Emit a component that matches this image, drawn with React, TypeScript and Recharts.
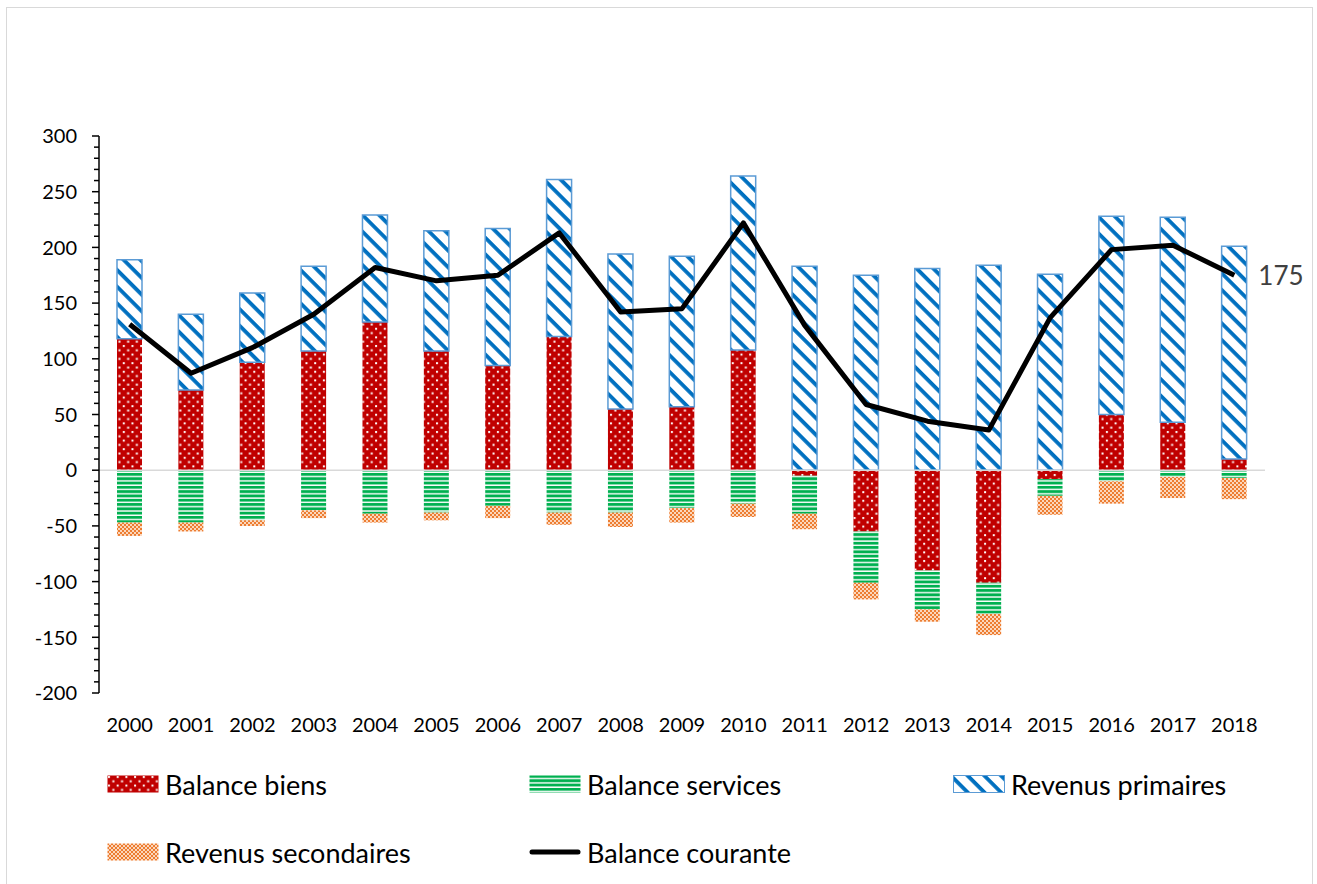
import React from "react";
import {
  Bar,
  ComposedChart,
  LabelList,
  Line,
  ReferenceLine,
  XAxis,
  YAxis,
} from "recharts";

const years = [
  "2000", "2001", "2002", "2003", "2004", "2005", "2006", "2007", "2008", "2009",
  "2010", "2011", "2012", "2013", "2014", "2015", "2016", "2017", "2018",
];
const balanceBiens = [118, 72, 97, 107, 133, 107, 94, 120, 55, 57, 108, -5, -55, -90, -101, -8, 50, 43, 10];
const balanceServices = [-47, -47, -45, -36, -39, -38, -32, -38, -38, -34, -30, -34, -46, -35, -28, -15, -10, -6, -7];
const revenusPrimaires = [71, 68, 62, 76, 96, 108, 123, 141, 139, 135, 156, 183, 175, 181, 184, 176, 178, 184, 191];
const revenusSecondaires = [-12, -8, -5, -7, -8, -7, -11, -11, -13, -13, -12, -14, -15, -11, -19, -17, -20, -19, -19];
const balanceCourante = [131, 87, 110, 140, 182, 170, 175, 213, 142, 145, 222, 130, 59, 44, 36, 137, 198, 202, 175];

const yTicks = [
  -200, -190, -180, -170, -160, -150, -140, -130, -120, -110,
  -100, -90, -80, -70, -60, -50, -40, -30, -20, -10,
  0, 10, 20, 30, 40, 50, 60, 70, 80, 90,
  100, 110, 120, 130, 140, 150, 160, 170, 180, 190,
  200, 210, 220, 230, 240, 250, 260, 270, 280, 290, 300,
];

const data = years.map((year, i) => ({
  year,
  biens: balanceBiens[i],
  services: balanceServices[i],
  primaires: revenusPrimaires[i],
  secondaires: revenusSecondaires[i],
  courante: balanceCourante[i],
}));

const FONT = "Lato, 'Open Sans', sans-serif";

// tick label sits tickSize + tickMargin left of the axis line
const Y_TICK_OFFSET = 22;

const YTick = (props: any) => {
  const { x, y, payload } = props;
  const axisX = x + Y_TICK_OFFSET;
  const major = payload.value % 50 === 0;
  return (
    <g>
      <line x1={axisX - (major ? 7 : 5)} x2={axisX} y1={y} y2={y} stroke="#000" strokeWidth={1.5} />
      {major && (
        <text x={x} y={y} dy="0.36em" textAnchor="end" fontSize={20} fontFamily={FONT} fill="#000">
          {payload.value}
        </text>
      )}
    </g>
  );
};

const LastLabel = (props: any) => {
  const { x, y, value, index } = props;
  if (index !== years.length - 1) return null;
  return (
    <text x={x + 24} y={y} dy="0.36em" fontSize={26} fontFamily={FONT} fill="#404040">
      {value}
    </text>
  );
};

const Patterns = () => (
  <svg width={0} height={0} style={{ position: "absolute" }}>
    <defs>
      <pattern id="pBiens" width={8.7} height={8.6} patternUnits="userSpaceOnUse">
        <rect width={8.7} height={8.6} fill="#c00000" />
        <rect x={1} y={1} width={2} height={2} fill="#fff" />
        <rect x={5.35} y={5.3} width={2} height={2} fill="#fff" />
      </pattern>
      <pattern id="pServices" width={10} height={4.3} patternUnits="userSpaceOnUse">
        <rect width={10} height={4.3} fill="#fff" />
        <rect y={0} width={10} height={2.6} fill="#00b050" />
        <rect y={2.6} width={10} height={0.6} fill="#7fd7a7" />
      </pattern>
      <pattern id="pPrimaires" width={10} height={11.8} patternUnits="userSpaceOnUse" patternTransform="rotate(45)">
        <rect width={10} height={11.8} fill="#fff" />
        <rect y={0} width={10} height={3.8} fill="#0070c0" />
      </pattern>
      <pattern id="pSecondaires" width={4} height={4} patternUnits="userSpaceOnUse">
        <rect width={4} height={4} fill="#fbd7bd" />
        <rect x={0} y={0} width={2} height={2} fill="#ed7d31" />
        <rect x={2} y={2} width={2} height={2} fill="#ed7d31" />
      </pattern>
    </defs>
  </svg>
);

const legendItems = [
  { label: "Balance biens", fill: "url(#pBiens)", left: 107, top: 784 },
  { label: "Balance services", fill: "url(#pServices)", left: 529, top: 784 },
  { label: "Revenus primaires", fill: "url(#pPrimaires)", left: 953, top: 784, stroke: "#5b9bd5" },
  { label: "Revenus secondaires", fill: "url(#pSecondaires)", left: 107, top: 852 },
  { label: "Balance courante", fill: "line", left: 529, top: 852 },
];

const Legend = () => (
  <>
    {legendItems.map((item) => (
      <div
        key={item.label}
        style={{
          position: "absolute",
          left: item.left,
          top: item.top - 16,
          height: 32,
          display: "flex",
          alignItems: "center",
          fontFamily: FONT,
          fontSize: 27,
          color: "#000",
          whiteSpace: "nowrap",
        }}
      >
        <svg width={52} height={18} style={{ marginRight: 6 }}>
          {item.fill === "line" ? (
            <line x1={3} x2={49} y1={9} y2={9} stroke="#000" strokeWidth={5} strokeLinecap="round" />
          ) : (
            <rect x={0.5} y={0.5} width={51} height={17} fill={item.fill} stroke={item.stroke ?? "none"} strokeWidth={1} />
          )}
        </svg>
        {item.label}
      </div>
    ))}
  </>
);

const App = () => {
  return (
    <div style={{ position: "absolute", left: 0, top: 0, width: 1317, height: 884, background: "#fff", overflow: "hidden" }}>
      <Patterns />
      <div
        style={{
          position: "absolute",
          left: 6,
          top: 7,
          width: 1305,
          height: 890,
          border: "1px solid #d9d9d9",
        }}
      />
      <ComposedChart
        width={1317}
        height={884}
        data={data}
        stackOffset="sign"
        margin={{ top: 136, right: 52, bottom: 131, left: 0 }}
        style={{ position: "absolute", left: 0, top: 0 }}
      >
        <XAxis
          dataKey="year"
          axisLine={false}
          tickLine={false}
          tickSize={0}
          tickMargin={25}
          height={60}
          interval={0}
          tick={{ fontSize: 20, fontFamily: FONT, fill: "#000" }}
        />
        <YAxis
          domain={[-200, 300]}
          ticks={yTicks}
          interval={0}
          width={99}
          tickSize={7}
          tickMargin={15}
          tickLine={false}
          axisLine={{ stroke: "#000", strokeWidth: 1.5 }}
          tick={<YTick />}
        />
        <ReferenceLine y={0} stroke="#d9d9d9" strokeWidth={1.5} />
        <Bar dataKey="biens" stackId="a" fill="url(#pBiens)" barSize={25} isAnimationActive={false} />
        <Bar dataKey="services" stackId="a" fill="url(#pServices)" barSize={25} isAnimationActive={false} />
        <Bar
          dataKey="primaires"
          stackId="a"
          fill="url(#pPrimaires)"
          stroke="#5b9bd5"
          strokeWidth={1.5}
          barSize={25}
          isAnimationActive={false}
        />
        <Bar dataKey="secondaires" stackId="a" fill="url(#pSecondaires)" barSize={25} isAnimationActive={false} />
        <Line
          dataKey="courante"
          type="linear"
          stroke="#000"
          strokeWidth={5}
          strokeLinejoin="round"
          dot={false}
          activeDot={false}
          isAnimationActive={false}
        >
          <LabelList dataKey="courante" content={<LastLabel />} />
        </Line>
      </ComposedChart>
      <Legend />
    </div>
  );
};

export default App;
